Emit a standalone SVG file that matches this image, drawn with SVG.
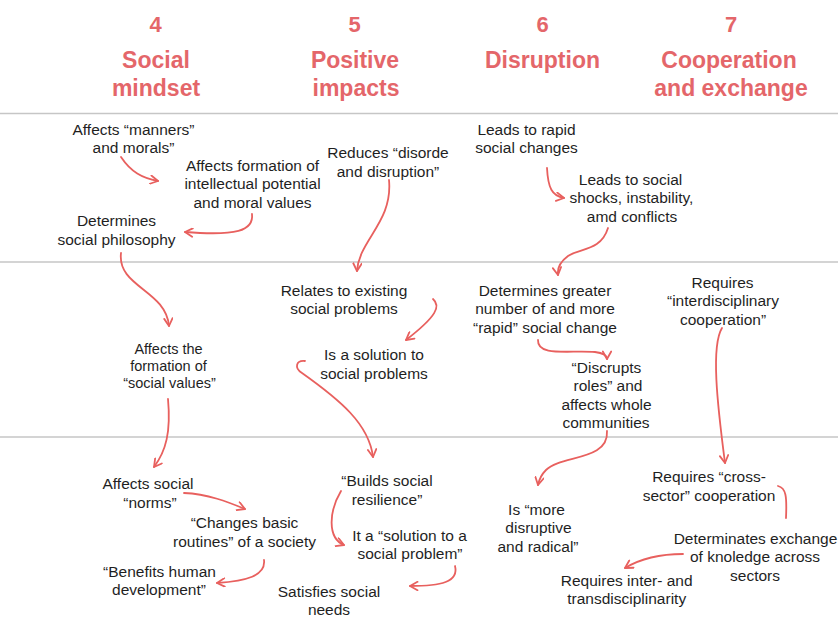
<svg xmlns="http://www.w3.org/2000/svg" width="838" height="629" viewBox="0 0 838 629">
  <style>
    .hd { font-family: "Liberation Sans", Arial, Helvetica, sans-serif; font-weight: bold; fill: #e4666a; text-anchor: middle; }
    .num { font-size: 22px; }
    .ttl { font-size: 23px; }
    .tx { font-family: "Liberation Sans", Arial, Helvetica, sans-serif; font-size: 15.5px; fill: #1f1f1f; text-anchor: middle; }
    .sm { font-size: 14.5px; }
    .sep { stroke: #c6c6c6; stroke-width: 1.5; }
    .cn { fill: none; stroke: #e8605e; stroke-width: 1.8; stroke-linecap: round; }
    .cn.arr { marker-end: url(#chev); }
  </style>
  <defs>
    <marker id="chev" viewBox="0 0 10 10" refX="9" refY="5" markerWidth="10" markerHeight="10" markerUnits="userSpaceOnUse" orient="auto">
      <path d="M1.5,0.8 L9,5 L1.5,9.2" fill="none" stroke="#e8605e" stroke-width="1.8" stroke-linecap="round" stroke-linejoin="round"/>
    </marker>
  </defs>

  <rect width="838" height="629" fill="#ffffff"/>

  <!-- row separators -->
  <g id="separators">
    <line class="sep" x1="0" y1="113.5" x2="838" y2="113.5"/>
    <line class="sep" x1="0" y1="262" x2="838" y2="262"/>
    <line class="sep" x1="0" y1="437" x2="838" y2="437"/>
  </g>

  <!-- column headers -->
  <g id="header-4">
    <text class="hd num" x="155.5" y="31.5">4</text>
    <text class="hd ttl" x="156" y="68">Social</text>
    <text class="hd ttl" x="156" y="96">mindset</text>
  </g>
  <g id="header-5">
    <text class="hd num" x="354.5" y="31.5">5</text>
    <text class="hd ttl" x="355" y="68">Positive</text>
    <text class="hd ttl" x="356" y="96">impacts</text>
  </g>
  <g id="header-6">
    <text class="hd num" x="542.5" y="31.5">6</text>
    <text class="hd ttl" x="542.5" y="68">Disruption</text>
  </g>
  <g id="header-7">
    <text class="hd num" x="731" y="31.5">7</text>
    <text class="hd ttl" x="729" y="68">Cooperation</text>
    <text class="hd ttl" x="731" y="96">and exchange</text>
  </g>

  <!-- connectors -->
  <g id="connectors">
    <path class="cn arr" d="M121,157 C131,172 142,178 158,181"/>
    <path class="cn arr" d="M252,214 C254,231 236,236 185,232"/>
    <path class="cn arr" d="M121,253 C117,287 166,290 169,326"/>
    <path class="cn arr" d="M389,180 C393,222 359,240 357,271"/>
    <path class="cn arr" d="M433,299 C441,306 437,316 406,340"/>
    <path class="cn arr" d="M305,361 C296,360 294,368 302,373 C340,400 369,424 373,457"/>
    <path class="cn arr" d="M168,399 C171,432 166,451 154,467"/>
    <path class="cn arr" d="M184,493 C208,494 228,502 245,509"/>
    <path class="cn arr" d="M264,560 C266,576 246,581 217,583"/>
    <path class="cn arr" d="M341,491 C329,511 327,538 344,545"/>
    <path class="cn arr" d="M455,566 C459,582 441,586 410,586"/>
    <path class="cn arr" d="M547,168 C548,188 552,196 564,198"/>
    <path class="cn arr" d="M608,228 C601,251 580,248 568,256 C560,262 557,268 558,275"/>
    <path class="cn arr" d="M538,340 C537,357 570,350 595,352 C603,353 607,355 607,359"/>
    <path class="cn arr" d="M607,431 C609,461 561,455 546,470 C541,475 539,480 538,485"/>
    <path class="cn arr" d="M722,328 C711,346 717,402 725,463"/>
    <path class="cn" d="M778,486 C786,488 787,496 786,518"/>
    <path class="cn arr" d="M683,554 C660,554 640,559 625,568"/>
  </g>

  <!-- column 4: social mindset -->
  <g id="n4-manners">
    <text class="tx" x="133.5" y="134.5">Affects “manners”</text>
    <text class="tx" x="133.5" y="153">and morals”</text>
  </g>
  <g id="n4-intellectual">
    <text class="tx" x="252.5" y="170.5">Affects formation of</text>
    <text class="tx" x="252.5" y="189">intellectual potential</text>
    <text class="tx" x="252.5" y="207.5">and moral values</text>
  </g>
  <g id="n4-philosophy">
    <text class="tx" x="116.5" y="226">Determines</text>
    <text class="tx" x="116.5" y="244.5">social philosophy</text>
  </g>
  <g id="n4-values">
    <text class="tx sm" x="168.5" y="354">Affects the</text>
    <text class="tx sm" x="168.5" y="371">formation of</text>
    <text class="tx sm" x="169.5" y="388">“social values”</text>
  </g>
  <g id="n4-norms">
    <text class="tx" x="148" y="489">Affects social</text>
    <text class="tx" x="150" y="507.5">“norms”</text>
  </g>
  <g id="n4-routines">
    <text class="tx" x="244.5" y="528">“Changes basic</text>
    <text class="tx" x="244.5" y="546.5">routines” of a society</text>
  </g>
  <g id="n4-development">
    <text class="tx" x="159.5" y="576.5">“Benefits human</text>
    <text class="tx" x="159" y="595">development”</text>
  </g>

  <!-- column 5: positive impacts -->
  <g id="n5-disorder">
    <text class="tx" x="388" y="158">Reduces “disorde</text>
    <text class="tx" x="388" y="176.5">and disruption”</text>
  </g>
  <g id="n5-existing">
    <text class="tx" x="344" y="295.5">Relates to existing</text>
    <text class="tx" x="344" y="314">social problems</text>
  </g>
  <g id="n5-solution">
    <text class="tx" x="374" y="360">Is a solution to</text>
    <text class="tx" x="374" y="378.5">social problems</text>
  </g>
  <g id="n5-resilience">
    <text class="tx" x="387" y="486">“Builds social</text>
    <text class="tx" x="387" y="504.5">resilience”</text>
  </g>
  <g id="n5-problem">
    <text class="tx" x="409.5" y="540.5">It a “solution to a</text>
    <text class="tx" x="410" y="559">social problem”</text>
  </g>
  <g id="n5-needs">
    <text class="tx" x="329" y="596.5">Satisfies social</text>
    <text class="tx" x="329" y="615">needs</text>
  </g>

  <!-- column 6: disruption -->
  <g id="n6-rapid">
    <text class="tx" x="526.5" y="134.5">Leads to rapid</text>
    <text class="tx" x="526.5" y="153">social changes</text>
  </g>
  <g id="n6-shocks">
    <text class="tx" x="630.5" y="184.5">Leads to social</text>
    <text class="tx" x="631.5" y="203">shocks, instability,</text>
    <text class="tx" x="632" y="221.5">amd conflicts</text>
  </g>
  <g id="n6-change">
    <text class="tx" x="545" y="295.5">Determines greater</text>
    <text class="tx" x="545" y="314">number of and more</text>
    <text class="tx" x="545" y="332.5">“rapid” social change</text>
  </g>
  <g id="n6-roles">
    <text class="tx" x="606.5" y="372.5">“Discrupts</text>
    <text class="tx" x="608" y="391">roles” and</text>
    <text class="tx" x="606.5" y="409.5">affects whole</text>
    <text class="tx" x="606" y="428">communities</text>
  </g>
  <g id="n6-radical">
    <text class="tx" x="536.5" y="514.5">Is “more</text>
    <text class="tx" x="538.5" y="533">disruptive</text>
    <text class="tx" x="538" y="551.5">and radical”</text>
  </g>

  <!-- column 7: cooperation and exchange -->
  <g id="n7-interdisciplinary">
    <text class="tx" x="722.5" y="287.5">Requires</text>
    <text class="tx" x="723" y="306">“interdisciplinary</text>
    <text class="tx" x="723" y="324.5">cooperation”</text>
  </g>
  <g id="n7-cross-sector">
    <text class="tx" x="709" y="482">Requires “cross-</text>
    <text class="tx" x="709" y="500.5">sector” cooperation</text>
  </g>
  <g id="n7-exchange">
    <text class="tx" x="755.5" y="543.5">Determinates exchange</text>
    <text class="tx" x="755" y="562">of knoledge across</text>
    <text class="tx" x="755" y="580.5">sectors</text>
  </g>
  <g id="n7-transdisciplinarity">
    <text class="tx" x="626.7" y="585.5">Requires inter- and</text>
    <text class="tx" x="626.7" y="604">transdisciplinarity</text>
  </g>
</svg>
